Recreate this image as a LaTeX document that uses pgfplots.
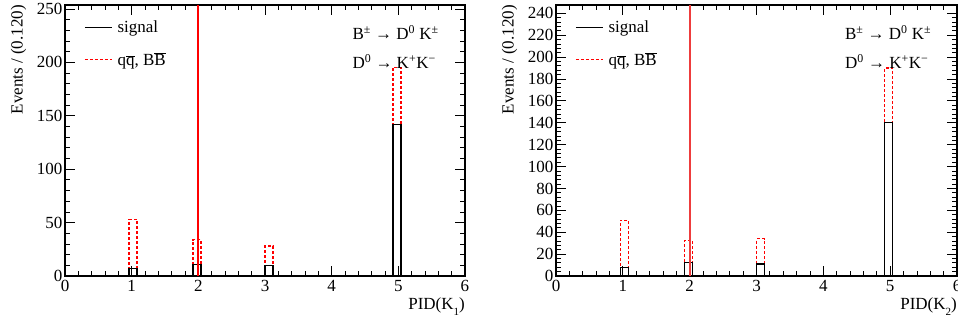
\documentclass[border=0pt]{standalone}
\usepackage{pgfplots}
\pgfplotsset{compat=1.18}
\usepackage{fontspec}
\setmainfont{Liberation Serif}
\newcommand{\rf}{\fontsize{17}{20}\selectfont}
\definecolor{bkgred}{RGB}{255,0,0}
\definecolor{cutred}{RGB}{238,60,60}
\pgfplotsset{
  rootaxis/.style={
    scale only axis, width=400pt, height=271pt,
    anchor=origin,
    xmin=0, xmax=6,
    ymin=0,
    tick align=inside,
    xtick={0,1,...,6},
    minor x tick num=4,
    major tick length=10pt, minor tick length=5pt,
    axis line style={line width=1.1pt},
    every tick/.style={black, line width=0.8pt},
    tick label style={font=\rf},
    /pgf/number format/assume math mode=true,
    xticklabel style={yshift=-1pt},
    yticklabel style={xshift=1pt},
    legend style={at={(rel axis cs:0,1)}, anchor=north west, xshift=16pt, yshift=-12pt,
      draw=none, fill=none, row sep=14pt, font=\rf,
      legend cell align=left, nodes={inner xsep=5pt}},
    legend image code/.code={\draw[#1] (0cm,0cm) -- (0.95cm,0cm);},
    clip=false,
  },
  sig/.style={ybar, bar shift=0pt, bar width=0.12, draw=black, fill=none, line width=1.1pt},
  bkg/.style={ybar, bar shift=0pt, bar width=0.12, draw=bkgred, fill=none, line width=1.3pt, dash pattern=on 3pt off 2pt},
}
\begin{document}
\begin{tikzpicture}
\path[use as bounding box] (0,0) rectangle (958pt,324pt);
% ---------- left panel ----------
\begin{axis}[rootaxis, at={(65pt,48pt)}, ymax=253.75,
  ytick={0,50,...,250}, minor y tick num=4]
\addlegendimage{draw=black, line width=1.1pt}
\addlegendentry{signal}
\addlegendimage{draw=bkgred, line width=1.3pt, dash pattern=on 3pt off 2pt}
\addlegendentry{q$\overline{\mbox{q}}$, B$\overline{\mbox{B}}$}
\addplot[bkg, forget plot] coordinates {(1.02,53) (1.98,34) (3.06,28) (4.98,195)};
\addplot[sig, forget plot] coordinates {(1.02,7) (1.98,11) (3.06,10) (4.98,142)};
\addplot[draw=bkgred, line width=2pt, forget plot] coordinates {(2,0) (2,253.75)};
\node[anchor=west, font=\rf] at (rel axis cs:0.71,0.897) {B\textsuperscript{±} → D\textsuperscript{0} K\textsuperscript{±}};
\node[anchor=west, font=\rf] at (rel axis cs:0.71,0.79) {D\textsuperscript{0} → K\textsuperscript{+}K\textsuperscript{−}};
\node[anchor=north east, font=\rf, inner sep=0pt, yshift=-22pt] at (rel axis cs:1,0) {PID(K\raisebox{-6pt}{\fontsize{11}{12}\selectfont 1})};
\node[xshift=-46.5pt, rotate=90, anchor=east, font=\rf, inner sep=0pt] at (rel axis cs:0,1) {Events / (0.120)};
\end{axis}
% ---------- right panel ----------
\begin{axis}[rootaxis, at={(556pt,48pt)}, width=401pt, ymax=247.6,
  ytick={0,20,...,240}, minor y tick num=4]
\addlegendimage{draw=black, line width=1.1pt}
\addlegendentry{signal}
\addlegendimage{draw=bkgred, line width=1.3pt, dash pattern=on 3pt off 2pt}
\addlegendentry{q$\overline{\mbox{q}}$, B$\overline{\mbox{B}}$}
\addplot[bkg, forget plot] coordinates {(1.02,51) (1.98,32.5) (3.06,34) (4.98,190)};
\addplot[sig, forget plot] coordinates {(1.02,8) (1.98,12) (3.06,11) (4.98,140)};
\addplot[draw=cutred, line width=2.2pt, forget plot] coordinates {(2,0) (2,247.6)};
\node[anchor=west, font=\rf] at (rel axis cs:0.712,0.897) {B\textsuperscript{±} → D\textsuperscript{0} K\textsuperscript{±}};
\node[anchor=west, font=\rf] at (rel axis cs:0.712,0.79) {D\textsuperscript{0} → K\textsuperscript{+}K\textsuperscript{−}};
\node[anchor=north east, font=\rf, inner sep=0pt, yshift=-22pt] at (rel axis cs:1,0) {PID(K\raisebox{-6pt}{\fontsize{11}{12}\selectfont 2})};
\node[xshift=-46.5pt, rotate=90, anchor=east, font=\rf, inner sep=0pt] at (rel axis cs:0,1) {Events / (0.120)};
\end{axis}
\end{tikzpicture}
\end{document}
